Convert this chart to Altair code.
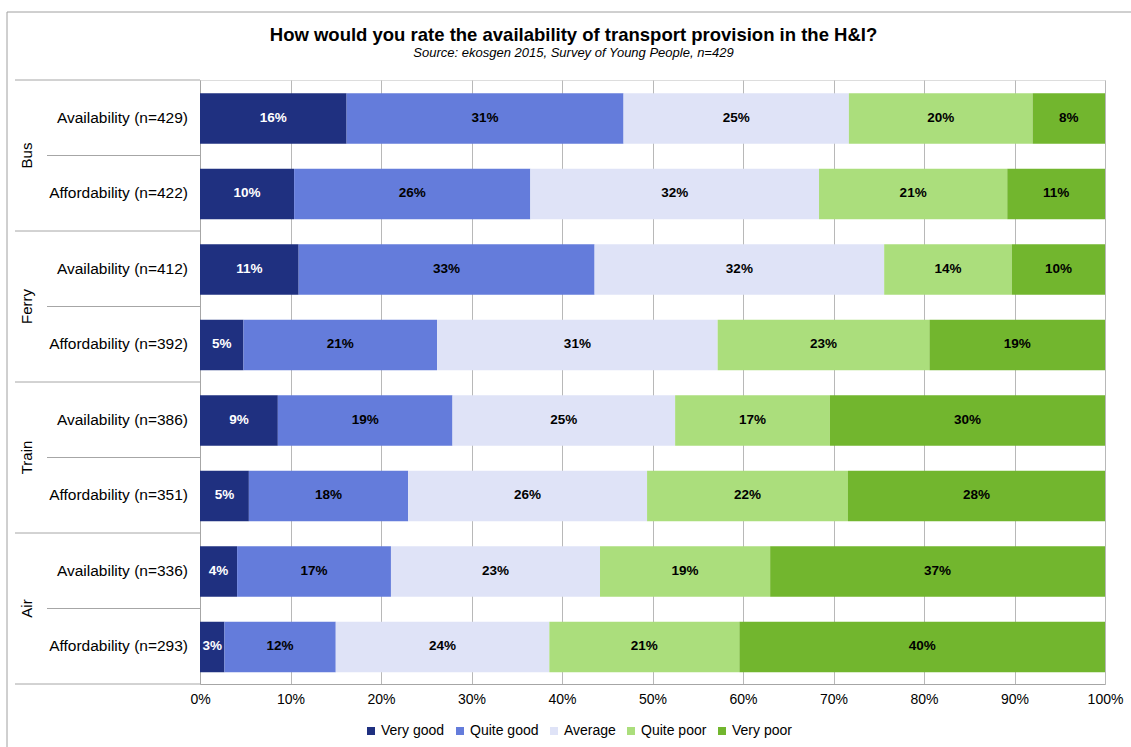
import altair as alt
import pandas as pd

# ---------------- data ----------------
groups = ["Bus", "Ferry", "Train", "Air"]
row_labels = [
    "Availability (n=429)", "Affordability (n=422)",
    "Availability (n=412)", "Affordability (n=392)",
    "Availability (n=386)", "Affordability (n=351)",
    "Availability (n=336)", "Affordability (n=293)",
]
ratings = ["Very good", "Quite good", "Average", "Quite poor", "Very poor"]
colors = ["#1f3080", "#647cdb", "#dfe3f7", "#abde7c", "#72b62e"]

very_good = [16.2, 10.4, 10.9, 4.8, 8.6, 5.4, 4.1, 2.7]
quite_good = [30.6, 26.1, 32.7, 21.4, 19.3, 17.6, 17.0, 12.3]
average = [24.9, 31.9, 32.0, 31.0, 24.6, 26.4, 23.1, 23.6]
quite_poor = [20.3, 20.8, 14.1, 23.4, 17.1, 22.2, 18.8, 21.0]
very_poor = [8.0, 10.8, 10.3, 19.4, 30.4, 28.4, 37.0, 40.4]

x_ticks = [0, 10, 20, 30, 40, 50, 60, 70, 80, 90, 100]

title_text = "How would you rate the availability of transport provision in the H&I?"
subtitle_text = "Source: ekosgen 2015, Survey of Young People, n=429"

# ---------------- tables ----------------
series = [very_good, quite_good, average, quite_poor, very_poor]
recs = []
for i, lab in enumerate(row_labels):
    start = 0.0
    for r, vals in zip(ratings, series):
        v = vals[i]
        recs.append({
            "row": i, "label": lab, "rating": r, "value": v,
            "start": start, "end": start + v, "mid": start + v / 2,
            "top": i + 0.177, "bottom": i + 0.843, "center": i + 0.5,
            "txt": f"{round(v)}%",
            "tcol": "#ffffff" if r == "Very good" else "#000000",
        })
        start += v
df = pd.DataFrame(recs)

rows_df = pd.DataFrame({"label": row_labels, "center": [i + 0.5 for i in range(len(row_labels))]})
grp_df = pd.DataFrame({"group": groups, "center": [2 * g + 1 for g in range(len(groups))]})
grp_lines = pd.DataFrame({"y": [2 * g for g in range(len(groups) + 1)]})
sub_lines = pd.DataFrame({"y": [2 * g + 1 for g in range(len(groups))]})

FONT = "Liberation Sans"
GRAY = "#a6a6a6"

xscale = alt.Scale(domain=[0, 100], nice=False)
yscale = alt.Scale(domain=[0, 8], reverse=True, nice=False)

bars = alt.Chart(df).mark_rect().encode(
    x=alt.X("start:Q", scale=xscale,
            axis=alt.Axis(values=x_ticks, labelExpr="datum.value + '%'", grid=True,
                          gridColor="#b8b8b8", ticks=False, domainColor=GRAY,
                          labelFontSize=14, labelPadding=8, labelColor="#000000",
                          labelFont=FONT, labelFlush=False, title=None)),
    x2="end:Q",
    y=alt.Y("top:Q", scale=yscale,
            axis=alt.Axis(labels=False, ticks=False, grid=False, title=None,
                          domainColor=GRAY)),
    y2="bottom:Q",
    color=alt.Color("rating:N", scale=alt.Scale(domain=ratings, range=colors),
                    sort=ratings,
                    legend=alt.Legend(title=None, orient="none", legendX=164, legendY=644,
                                      direction="horizontal", symbolType="square",
                                      symbolSize=64, symbolStrokeWidth=0,
                                      labelFontSize=14, labelFont=FONT, labelColor="#000000",
                                      labelOffset=3, columnPadding=8)),
)

texts = alt.Chart(df).mark_text(font=FONT, fontSize=13.5, fontWeight="bold").encode(
    x="mid:Q", y="center:Q",
    text="txt:N",
    color=alt.Color("tcol:N", scale=None),
)

glines = alt.Chart(grp_lines).mark_rule(color=GRAY, strokeWidth=1).encode(
    y="y:Q", x=alt.value(-185), x2=alt.value(0))
slines = alt.Chart(sub_lines).mark_rule(color=GRAY, strokeWidth=1).encode(
    y="y:Q", x=alt.value(-153), x2=alt.value(0))

row_text = alt.Chart(rows_df).mark_text(font=FONT, fontSize=15.5, align="right",
                                         baseline="middle", color="#000000").encode(
    y="center:Q", x=alt.value(-12), text="label:N")

grp_text = alt.Chart(grp_df).mark_text(font=FONT, fontSize=15, align="center",
                                        baseline="middle", angle=270, color="#000000").encode(
    y="center:Q", x=alt.value(-173), text="group:N")

border = alt.Chart(pd.DataFrame({"a": [0]})).mark_rect(
    filled=False, stroke="#a0a0a0", strokeWidth=1).encode(
    x=alt.value(-193), x2=alt.value(1200), y=alt.value(-68), y2=alt.value(900))

chart = alt.layer(border, bars, texts, glines, slines, row_text, grp_text).properties(
    width=905, height=604,
    autosize=alt.AutoSizeParams(type="none"),
    padding={"left": 200, "top": 80, "right": 26, "bottom": 63},
    title=alt.TitleParams(text=title_text, subtitle=subtitle_text, anchor="middle",
                          frame="group", dx=-79, offset=-48,
                          font=FONT, fontSize=18.5, fontWeight="bold", color="#000000",
                          subtitleFont=FONT, subtitleFontSize=13,
                          subtitleFontStyle="italic", subtitleColor="#000000",
                          subtitlePadding=2),
).configure_view(stroke=None).configure(background="white")

chart.save("out.html", embed_options={"renderer": "svg", "actions": False})
